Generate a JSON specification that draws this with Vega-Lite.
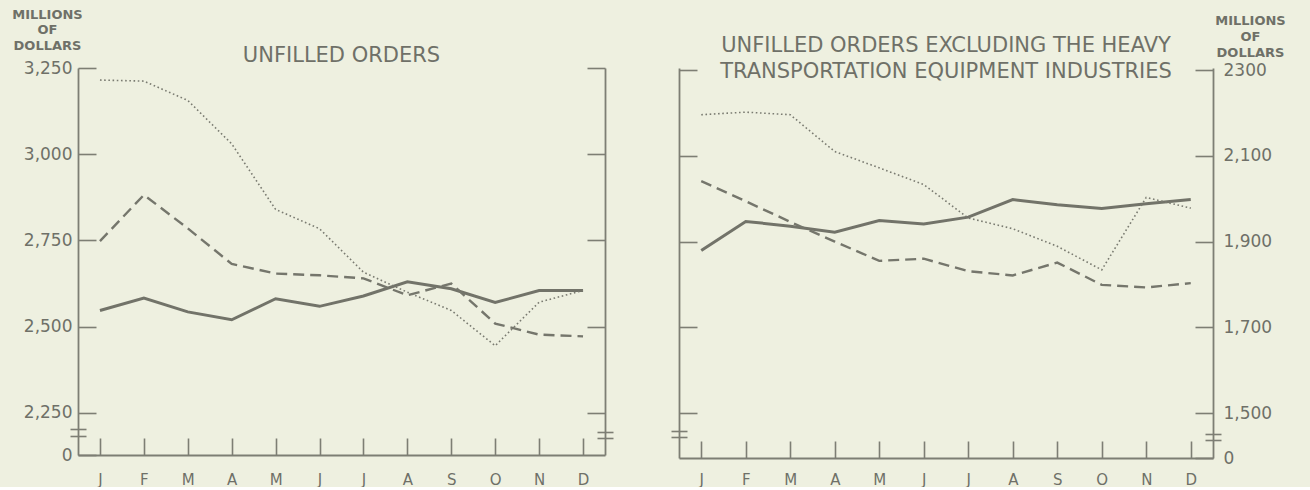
{
  "$schema": "https://vega.github.io/schema/vega-lite/v6.json",
  "background": "#eef0e0",
  "padding": {"left": 11, "top": 8, "right": 28, "bottom": 0},
  "spacing": 74,
  "bounds": "flush",
  "config": {
    "view": {"stroke": null},
    "font": "DejaVu Sans",
    "axis": {"domainColor": "#7d7e74", "tickColor": "#7d7e74", "labelColor": "#6f7068", "titleColor": "#6f7068", "grid": false, "domainWidth": 1.8, "tickWidth": 1.6, "labelFont": "DejaVu Sans", "titleFont": "DejaVu Sans"},
    "title": {"color": "#6f7068", "font": "DejaVu Sans", "fontWeight": "normal", "fontSize": 21}
  },
  "datasets": {
    "left": [
      {"series": "Series 1", "month": "Jan", "value": 2547},
      {"series": "Series 1", "month": "Feb", "value": 2583},
      {"series": "Series 1", "month": "Mar", "value": 2543},
      {"series": "Series 1", "month": "Apr", "value": 2520},
      {"series": "Series 1", "month": "May", "value": 2581},
      {"series": "Series 1", "month": "Jun", "value": 2559},
      {"series": "Series 1", "month": "Jul", "value": 2589},
      {"series": "Series 1", "month": "Aug", "value": 2630},
      {"series": "Series 1", "month": "Sep", "value": 2610},
      {"series": "Series 1", "month": "Oct", "value": 2570},
      {"series": "Series 1", "month": "Nov", "value": 2605},
      {"series": "Series 1", "month": "Dec", "value": 2605},
      {"series": "Series 2", "month": "Jan", "value": 2748},
      {"series": "Series 2", "month": "Feb", "value": 2882},
      {"series": "Series 2", "month": "Mar", "value": 2785},
      {"series": "Series 2", "month": "Apr", "value": 2682},
      {"series": "Series 2", "month": "May", "value": 2654},
      {"series": "Series 2", "month": "Jun", "value": 2649},
      {"series": "Series 2", "month": "Jul", "value": 2640},
      {"series": "Series 2", "month": "Aug", "value": 2591},
      {"series": "Series 2", "month": "Sep", "value": 2625},
      {"series": "Series 2", "month": "Oct", "value": 2509},
      {"series": "Series 2", "month": "Nov", "value": 2477},
      {"series": "Series 2", "month": "Dec", "value": 2472},
      {"series": "Series 3", "month": "Jan", "value": 3215},
      {"series": "Series 3", "month": "Feb", "value": 3212},
      {"series": "Series 3", "month": "Mar", "value": 3156},
      {"series": "Series 3", "month": "Apr", "value": 3030},
      {"series": "Series 3", "month": "May", "value": 2840},
      {"series": "Series 3", "month": "Jun", "value": 2784},
      {"series": "Series 3", "month": "Jul", "value": 2658},
      {"series": "Series 3", "month": "Aug", "value": 2600},
      {"series": "Series 3", "month": "Sep", "value": 2547},
      {"series": "Series 3", "month": "Oct", "value": 2445},
      {"series": "Series 3", "month": "Nov", "value": 2571},
      {"series": "Series 3", "month": "Dec", "value": 2605}
    ],
    "right": [
      {"series": "Series 1", "month": "Jan", "value": 1879},
      {"series": "Series 1", "month": "Feb", "value": 1947},
      {"series": "Series 1", "month": "Mar", "value": 1936},
      {"series": "Series 1", "month": "Apr", "value": 1922},
      {"series": "Series 1", "month": "May", "value": 1949},
      {"series": "Series 1", "month": "Jun", "value": 1941},
      {"series": "Series 1", "month": "Jul", "value": 1957},
      {"series": "Series 1", "month": "Aug", "value": 1998},
      {"series": "Series 1", "month": "Sep", "value": 1986},
      {"series": "Series 1", "month": "Oct", "value": 1977},
      {"series": "Series 1", "month": "Nov", "value": 1988},
      {"series": "Series 1", "month": "Dec", "value": 1998},
      {"series": "Series 2", "month": "Jan", "value": 2041},
      {"series": "Series 2", "month": "Feb", "value": 1994},
      {"series": "Series 2", "month": "Mar", "value": 1946},
      {"series": "Series 2", "month": "Apr", "value": 1900},
      {"series": "Series 2", "month": "May", "value": 1855},
      {"series": "Series 2", "month": "Jun", "value": 1860},
      {"series": "Series 2", "month": "Jul", "value": 1831},
      {"series": "Series 2", "month": "Aug", "value": 1821},
      {"series": "Series 2", "month": "Sep", "value": 1851},
      {"series": "Series 2", "month": "Oct", "value": 1799},
      {"series": "Series 2", "month": "Nov", "value": 1793},
      {"series": "Series 2", "month": "Dec", "value": 1803},
      {"series": "Series 3", "month": "Jan", "value": 2196},
      {"series": "Series 3", "month": "Feb", "value": 2202},
      {"series": "Series 3", "month": "Mar", "value": 2196},
      {"series": "Series 3", "month": "Apr", "value": 2110},
      {"series": "Series 3", "month": "May", "value": 2072},
      {"series": "Series 3", "month": "Jun", "value": 2033},
      {"series": "Series 3", "month": "Jul", "value": 1955},
      {"series": "Series 3", "month": "Aug", "value": 1930},
      {"series": "Series 3", "month": "Sep", "value": 1889},
      {"series": "Series 3", "month": "Oct", "value": 1834},
      {"series": "Series 3", "month": "Nov", "value": 2003},
      {"series": "Series 3", "month": "Dec", "value": 1978}
    ]
  },
  "hconcat": [
    {
      "width": 527,
      "height": 387,
      "title": {"text": "UNFILLED ORDERS", "offset": -58, "anchor": "middle", "frame": "group"},
      "data": {"name": "left"},
      "resolve": {"axis": {"x": "independent", "y": "independent"}},
      "layer": [
        {
          "transform": [{"filter": "datum.series == 'Series 1'"}],
          "mark": {"type": "line", "color": "#727369", "strokeWidth": 3},
          "encoding": {
            "x": {"field": "month", "type": "ordinal", "sort": ["Jan","Feb","Mar","Apr","May","Jun","Jul","Aug","Sep","Oct","Nov","Dec"], "scale": {"type": "point", "padding": 0.5},
              "axis": {"orient": "bottom", "title": null, "labelExpr": "substring(datum.label, 0, 1)", "labelAngle": 0, "ticks": true, "domain": true, "tickSize": -17, "labelPadding": 34, "labelFontSize": 15, "labelBaseline": "top", "domainWidth": 2.2}},
            "y": {"field": "value", "type": "quantitative", "scale": {"domain": [2128, 3250], "nice": false, "zero": false},
              "axis": {"orient": "left", "title": ["MILLIONS", "OF", "DOLLARS"], "titleAngle": 0, "titleAlign": "center", "titleBaseline": "top", "titleX": -31, "titleY": -60, "titleFontSize": 13, "titleFontWeight": "bold", "titleLineHeight": 15.5,
                "values": [2128, 2250, 2500, 2750, 3000, 3250], "labelExpr": "datum.value < 2200 ? '0' : format(datum.value, ',')", "tickSize": -18, "labelPadding": 24, "labelFontSize": 17, "labelBaseline": "middle"}}
          }
        },
        {
          "transform": [{"filter": "datum.series == 'Series 2'"}],
          "mark": {"type": "line", "color": "#75766c", "strokeWidth": 2.4, "strokeDash": [11, 6]},
          "encoding": {
            "x": {"field": "month", "type": "ordinal", "sort": ["Jan","Feb","Mar","Apr","May","Jun","Jul","Aug","Sep","Oct","Nov","Dec"], "scale": {"type": "point", "padding": 0.5}, "axis": null},
            "y": {"field": "value", "type": "quantitative", "scale": {"domain": [2128, 3250], "nice": false, "zero": false},
              "axis": {"orient": "right", "title": null, "labels": false, "values": [2250, 2500, 2750, 3000, 3250], "tickSize": -18}}
          }
        },
        {
          "transform": [{"filter": "datum.series == 'Series 3'"}],
          "mark": {"type": "line", "color": "#7a7b71", "strokeWidth": 1.6, "strokeDash": [1.6, 2.6]},
          "encoding": {
            "x": {"field": "month", "type": "ordinal", "sort": ["Jan","Feb","Mar","Apr","May","Jun","Jul","Aug","Sep","Oct","Nov","Dec"], "scale": {"type": "point", "padding": 0.5}, "axis": null},
            "y": {"field": "value", "type": "quantitative", "scale": {"domain": [2128, 3250], "nice": false, "zero": false},
              "axis": {"orient": "left", "title": null, "labels": false, "domain": false, "values": [2183, 2204], "tickSize": 16, "offset": -8}}
          }
        },
        {
          "transform": [{"filter": "datum.series == 'Series 3'"}],
          "mark": {"type": "line", "opacity": 0},
          "encoding": {
            "x": {"field": "month", "type": "ordinal", "sort": ["Jan","Feb","Mar","Apr","May","Jun","Jul","Aug","Sep","Oct","Nov","Dec"], "scale": {"type": "point", "padding": 0.5}, "axis": null},
            "y": {"field": "value", "type": "quantitative", "scale": {"domain": [2128, 3250], "nice": false, "zero": false},
              "axis": {"orient": "right", "title": null, "labels": false, "domain": false, "values": [2177, 2195], "tickSize": 16, "offset": -8}}
          }
        }
      ]
    },
    {
      "width": 534,
      "height": 390,
      "title": {"text": ["UNFILLED ORDERS EXCLUDING THE HEAVY", "TRANSPORTATION EQUIPMENT INDUSTRIES"], "lineHeight": 26, "offset": -68, "anchor": "middle", "frame": "group"},
      "data": {"name": "right"},
      "resolve": {"axis": {"x": "independent", "y": "independent"}},
      "layer": [
        {
          "transform": [{"filter": "datum.series == 'Series 1'"}],
          "mark": {"type": "line", "color": "#727369", "strokeWidth": 3},
          "encoding": {
            "x": {"field": "month", "type": "ordinal", "sort": ["Jan","Feb","Mar","Apr","May","Jun","Jul","Aug","Sep","Oct","Nov","Dec"], "scale": {"type": "point", "padding": 0.5},
              "axis": {"orient": "bottom", "title": null, "labelExpr": "substring(datum.label, 0, 1)", "labelAngle": 0, "ticks": true, "domain": true, "tickSize": -17, "labelPadding": 31, "labelFontSize": 15, "labelBaseline": "top", "domainWidth": 2.2}},
            "y": {"field": "value", "type": "quantitative", "scale": {"domain": [1395, 2305], "nice": false, "zero": false},
              "axis": {"orient": "right", "title": ["MILLIONS", "OF", "DOLLARS"], "titleAngle": 0, "titleAlign": "center", "titleBaseline": "top", "titleX": 37, "titleY": -54, "titleFontSize": 13, "titleFontWeight": "bold", "titleLineHeight": 16,
                "values": [1395, 1500, 1700, 1900, 2100, 2300], "labelExpr": "datum.value < 1450 ? '0' : (datum.value == 2300 ? '2300' : format(datum.value, ','))", "tickSize": -18, "labelPadding": 28, "labelFontSize": 17, "labelBaseline": "middle"}}
          }
        },
        {
          "transform": [{"filter": "datum.series == 'Series 2'"}],
          "mark": {"type": "line", "color": "#75766c", "strokeWidth": 2.4, "strokeDash": [11, 6]},
          "encoding": {
            "x": {"field": "month", "type": "ordinal", "sort": ["Jan","Feb","Mar","Apr","May","Jun","Jul","Aug","Sep","Oct","Nov","Dec"], "scale": {"type": "point", "padding": 0.5}, "axis": null},
            "y": {"field": "value", "type": "quantitative", "scale": {"domain": [1395, 2305], "nice": false, "zero": false},
              "axis": {"orient": "left", "title": null, "labels": false, "values": [1500, 1700, 1900, 2100, 2300], "tickSize": -18}}
          }
        },
        {
          "transform": [{"filter": "datum.series == 'Series 3'"}],
          "mark": {"type": "line", "color": "#7a7b71", "strokeWidth": 1.6, "strokeDash": [1.6, 2.6]},
          "encoding": {
            "x": {"field": "month", "type": "ordinal", "sort": ["Jan","Feb","Mar","Apr","May","Jun","Jul","Aug","Sep","Oct","Nov","Dec"], "scale": {"type": "point", "padding": 0.5}, "axis": null},
            "y": {"field": "value", "type": "quantitative", "scale": {"domain": [1395, 2305], "nice": false, "zero": false},
              "axis": {"orient": "left", "title": null, "labels": false, "domain": false, "values": [1444, 1458], "tickSize": 16, "offset": -8}}
          }
        },
        {
          "transform": [{"filter": "datum.series == 'Series 3'"}],
          "mark": {"type": "line", "opacity": 0},
          "encoding": {
            "x": {"field": "month", "type": "ordinal", "sort": ["Jan","Feb","Mar","Apr","May","Jun","Jul","Aug","Sep","Oct","Nov","Dec"], "scale": {"type": "point", "padding": 0.5}, "axis": null},
            "y": {"field": "value", "type": "quantitative", "scale": {"domain": [1395, 2305], "nice": false, "zero": false},
              "axis": {"orient": "right", "title": null, "labels": false, "domain": false, "values": [1438, 1452], "tickSize": 16, "offset": -8}}
          }
        }
      ]
    }
  ]
}
